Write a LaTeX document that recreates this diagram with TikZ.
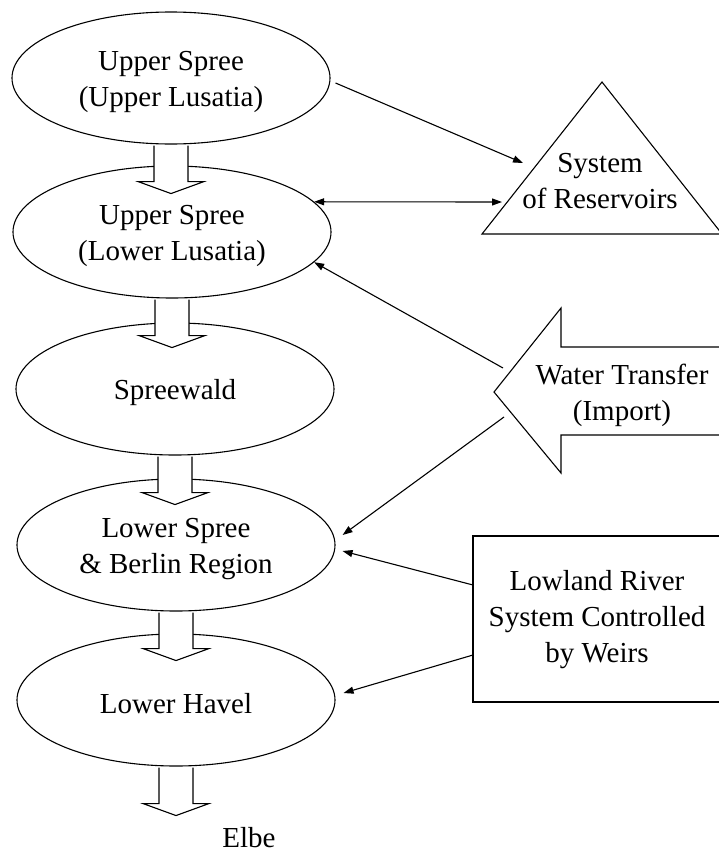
\documentclass[tikz,border=0pt]{standalone}
\usepackage{fontspec}
\setmainfont{Liberation Serif}
\usetikzlibrary{shapes.geometric,arrows.meta,calc}
\begin{document}
\begin{tikzpicture}[x=1pt,y=-1pt,
  every node/.style={font=\fontsize{29}{36}\selectfont},
  region/.style={ellipse,draw,line width=1.1pt,inner sep=0pt,minimum width=318pt,minimum height=132pt},
  regtext/.style={align=center,inner sep=0pt},
  flow/.style={draw,line width=1.1pt,fill=white,line join=miter},
  outline/.style={draw,line width=1.1pt,line join=miter},
  link/.style={line width=1.1pt,-{Triangle[length=10pt,width=7pt]}},
  link2/.style={line width=1.1pt,{Triangle[length=10pt,width=7pt]}-{Triangle[length=10pt,width=7pt]}}]
\useasboundingbox (0,0) rectangle (719,854);
\clip (0,0) rectangle (719,854);
% main chain
\node[region] (e1) at (171,78) {};
\node[region] (e2) at (172,232) {};
\node[region] (e3) at (175,389) {};
\node[region] (e4) at (176,545) {};
\node[region] (e5) at (176,700) {};
\node[regtext] (t1) at ($(e1)+(0,4)$) {Upper Spree\\(Upper Lusatia)};
\node[regtext] (t2) at ($(e2)+(0,4)$) {Upper Spree\\(Lower Lusatia)};
\node[regtext] (t3) at ($(e3)+(0,4)$) {Spreewald};
\node[regtext] (t4) at ($(e4)+(0,4)$) {Lower Spree\\\& Berlin Region};
\node[regtext] (t5) at ($(e5)+(0,4)$) {Lower Havel};
\node (elbe) at (249,838) {Elbe};
% flow arrows
\foreach \a in {e1,e2,e3,e4,e5}{
  \draw[flow] ($(\a.south)+(-17,1)$) -- ++(0,36) -- ++(-16,0) -- ++(33,12) -- ++(33,-12) -- ++(-16,0) -- ++(0,-36);
}
% reservoirs
\draw[outline] (602,82) -- (482,234) -- (722,234) -- cycle;
\node[align=center] (res) at (600,181) {System\\of Reservoirs};
\coordinate (r1) at (523,163);
\coordinate (r2) at (502,202);
% water transfer
\draw[outline] (730,347) -- (561,347) -- (561,308) -- (494,392) -- (561,473) -- (561,435) -- (730,435);
\node[align=center] (wt) at (622,395) {Water Transfer\\(Import)};
\coordinate (w1) at (503,368);
\coordinate (w2) at (504,417);
% weirs
\draw[outline] (730,536) -- (473,536) -- (473,702) -- (730,702);
\node[align=center] (weir) at (597,620) {Lowland River\\System Controlled\\by Weirs};
\coordinate (b1) at (473,585);
\coordinate (b2) at (473,655);
% connectors
\draw[link] ($(e1.east)+(5,5)$) -- (r1);
\draw[link2] (e2.12) -- (r2);
\draw[link] (w1) -- (e2.-12);
\draw[link] (w2) -- ($(e4.east)+(7,-10)$);
\draw[link] (b1) -- ($(e4.east)+(7,6)$);
\draw[link] (b2) -- ($(e5.east)+(8,-7)$);
\end{tikzpicture}
\end{document}
